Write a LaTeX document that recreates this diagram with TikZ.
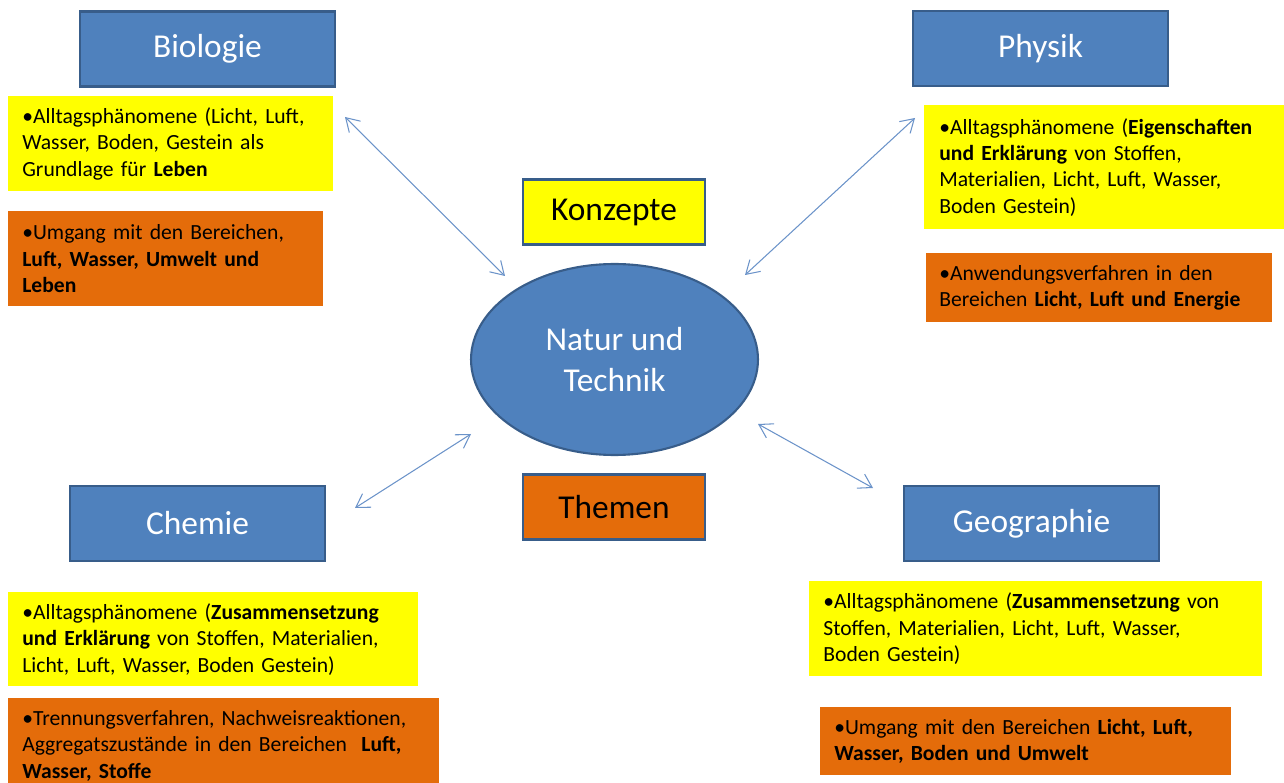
\documentclass[tikz,border=0pt]{standalone}
\usepackage{fontspec}
\setmainfont{Carlito}
\usetikzlibrary{shapes.geometric,arrows.meta}
\definecolor{subjblue}{HTML}{4F81BD}
\definecolor{subjline}{HTML}{385D8A}
\definecolor{phenyellow}{HTML}{FFFF00}
\definecolor{topicorange}{HTML}{E46C0A}
\definecolor{linkblue}{HTML}{6B93C9}
\tikzset{
  subject/.style={draw=subjline, line width=1.2pt, fill=subjblue, text=white,
    minimum width=5.1cm, minimum height=1.5cm, font=\fontsize{19}{23}\selectfont},
  label box/.style={draw=subjline, line width=1.2pt, text=black,
    minimum width=3.64cm, minimum height=1.3cm, font=\fontsize{19}{23}\selectfont},
  note/.style={anchor=north west, inner xsep=0.28cm, inner ysep=0pt, align=left,
    font=\fontsize{12.3}{15}\selectfont},
  phen/.style={note, fill=phenyellow},
  topic/.style={note, fill=topicorange},
  link/.style={draw=linkblue, line width=0.6pt,
    {Straight Barb[length=2.6mm,width=3.2mm]}-{Straight Barb[length=2.6mm,width=3.2mm]}}
}
\begin{document}
\begin{tikzpicture}[x=0.02cm, y=-0.02cm]
  \useasboundingbox (0,0) rectangle (1284,783);

  \node[ellipse, draw=subjline, line width=1.2pt, fill=subjblue, text=white,
    minimum width=5.74cm, minimum height=3.82cm, inner sep=0pt, align=center,
    font=\fontsize{19}{23}\selectfont] (nt) at (614.5,359.5) {Natur und\\Technik};
  \node[label box, fill=phenyellow] (konzepte) at (614,212) {Konzepte};
  \node[label box, fill=topicorange] (themen) at (614,507) {Themen};

  \node[subject] (bio) at (207.5,49) {Biologie};
  \node[subject] (phy) at (1040.5,48.5) {Physik};
  \node[subject] (che) at (197.5,523.5) {Chemie};
  \node[subject] (geo) at (1031.5,523.5) {Geographie};

  \node[phen, text width=5.94cm, minimum height=1.9cm] (bio-k) at (8,96)
    {•Alltagsphänomene (Licht, Luft,\\ Wasser, Boden, Gestein als\\ Grundlage für \textbf{Leben}};
  \node[topic, text width=5.74cm, minimum height=1.9cm] (bio-t) at (8,211)
    {•Umgang mit den Bereichen,\\ \textbf{Luft, Wasser, Umwelt und}\\ \textbf{Leben}};
  \node[phen, text width=6.6cm, minimum height=2.48cm, inner xsep=0.3cm] (phy-k) at (924,105)
    {•Alltagsphänomene (\textbf{Eigenschaften}\\ \textbf{und Erklärung} von Stoffen,\\ Materialien, Licht, Luft, Wasser,\\ Boden Gestein)};
  \node[topic, text width=6.4cm, minimum height=1.38cm, inner xsep=0.26cm] (phy-t) at (926,253)
    {•Anwendungsverfahren in den\\ Bereichen \textbf{Licht, Luft und Energie}};
  \node[phen, text width=7.64cm, minimum height=1.88cm] (che-k) at (8,592)
    {•Alltagsphänomene (\textbf{Zusammensetzung}\\ \textbf{und Erklärung} von Stoffen, Materialien,\\ Licht, Luft, Wasser, Boden Gestein)};
  \node[topic, text width=8.06cm, minimum height=1.9cm] (che-t) at (8,698)
    {•Trennungsverfahren, Nachweisreaktionen,\\ Aggregatszustände in den Bereichen\ \ \textbf{Luft,}\\ \textbf{Wasser, Stoffe}};
  \node[phen, text width=8.5cm, minimum height=1.9cm] (geo-k) at (809,581)
    {•Alltagsphänomene (\textbf{Zusammensetzung} von\\ Stoffen, Materialien, Licht, Luft, Wasser,\\ Boden Gestein)};
  \node[topic, text width=7.66cm, minimum height=1.36cm] (geo-t) at (820,707)
    {•Umgang mit den Bereichen \textbf{Licht, Luft,}\\ \textbf{Wasser, Boden und Umwelt}};

  \coordinate (bio-a) at (345,117);
  \coordinate (bio-b) at (505,276);
  \coordinate (phy-a) at (915,118);
  \coordinate (phy-b) at (745,275);
  \coordinate (che-a) at (355,508);
  \coordinate (che-b) at (471,434);
  \coordinate (geo-a) at (873,488);
  \coordinate (geo-b) at (758,424);
  \draw[link] (bio-a) -- (bio-b);
  \draw[link] (phy-a) -- (phy-b);
  \draw[link] (che-a) -- (che-b);
  \draw[link] (geo-a) -- (geo-b);
\end{tikzpicture}
\end{document}
